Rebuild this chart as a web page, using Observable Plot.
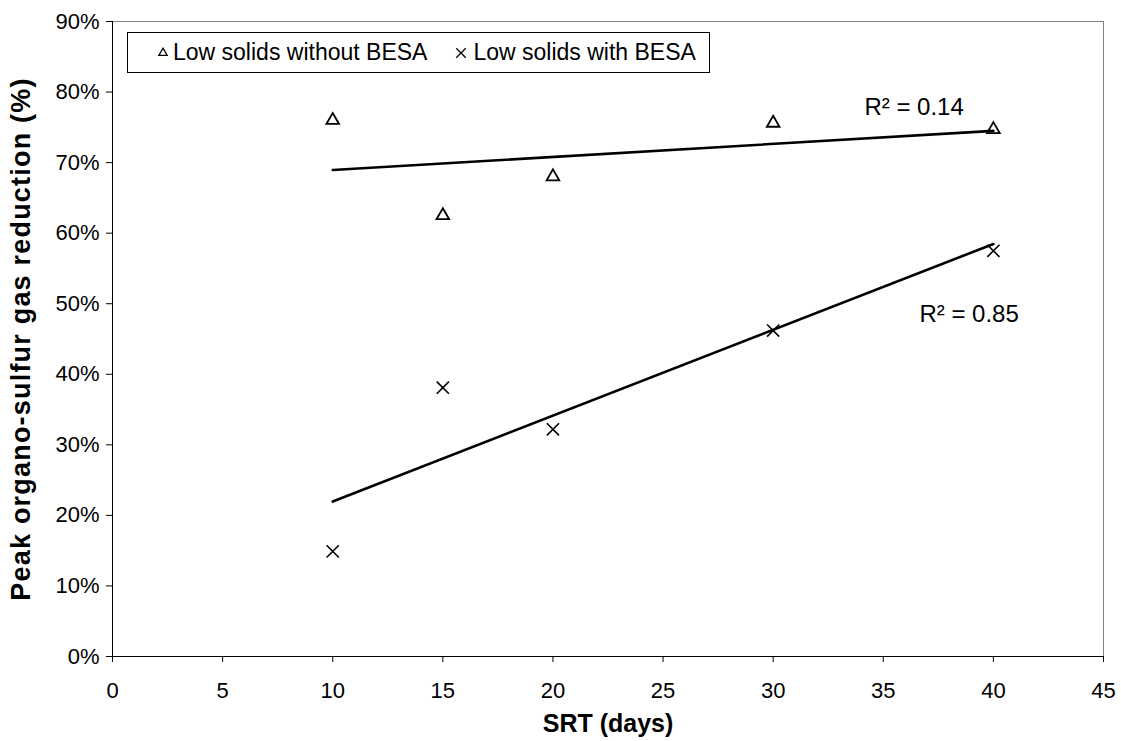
<!DOCTYPE html>
<html>
<head>
<meta charset="utf-8">
<script src="https://cdn.jsdelivr.net/npm/d3@7"></script>
<script src="https://cdn.jsdelivr.net/npm/@observablehq/plot@0.6"></script>
<style>
  html, body { margin: 0; padding: 0; background: #fff; }
  #chart { position: relative; width: 1121px; height: 741px; font-family: "Liberation Sans", Arial, sans-serif; }
  #legend {
    position: absolute; left: 127px; top: 32px; width: 581px; height: 39px;
    border: 1px solid #000; background: #fff;
    display: flex; align-items: center; font-size: 23px; color: #000;
  }
  #legend .item { display: flex; align-items: center; white-space: nowrap; }
  #legend svg { display: block; }
</style>
</head>
<body>
<div id="chart"></div>
<script>
// SRT (days) at which each run was sampled
const srt = [10, 15, 20, 30, 40];
// Peak organo-sulfur gas reduction (%)
const withoutBesa = [76.0, 62.5, 68.0, 75.6, 74.7];
const withBesa = [14.9, 38.1, 32.2, 46.2, 57.5];
const seriesNames = ["Low solids without BESA", "Low solids with BESA"];
const seriesSymbols = ["triangle", "times"];
const xTicks = [0, 5, 10, 15, 20, 25, 30, 35, 40, 45];
const yTicks = [0, 10, 20, 30, 40, 50, 60, 70, 80, 90];
const xTitle = "SRT (days)";
const yTitle = "Peak organo-sulfur gas reduction (%)";

const seriesValues = [withoutBesa, withBesa];
const rows = seriesValues.flatMap((vals, i) =>
  vals.map((v, j) => ({ series: seriesNames[i], srt: srt[j], value: v })));

// Ordinary least-squares fit with coefficient of determination
function fit(xs, ys) {
  const mx = d3.mean(xs), my = d3.mean(ys);
  const sxy = d3.sum(xs, (x, i) => (x - mx) * (ys[i] - my));
  const sxx = d3.sum(xs, x => (x - mx) ** 2);
  const syy = d3.sum(ys, y => (y - my) ** 2);
  const slope = sxy / sxx, intercept = my - slope * mx;
  return { slope, intercept, r2: (sxy * sxy) / (sxx * syy) };
}
const fits = seriesValues.map(vals => fit(srt, vals));
const xEnd = d3.max(srt);
// R² labels anchored at the right end of each trend line
const r2Labels = fits.map((f, i) => ({
  series: seriesNames[i],
  srt: xEnd,
  value: f.intercept + f.slope * xEnd,
  text: `R\u00B2 = ${f.r2.toFixed(2)}`
}));

const font = '"Liberation Sans", Arial, sans-serif';

const plot = Plot.plot({
  width: 1121,
  height: 741,
  marginLeft: 112,
  marginRight: 18,
  marginTop: 21,
  marginBottom: 85,
  style: { fontFamily: font, fontSize: "22px", color: "#000", background: "#fff", overflow: "visible" },
  x: { domain: [0, 45] },
  y: { domain: [0, 90] },
  marks: [
    // plot-area border on the top and right
    Plot.ruleY([90], { stroke: "#808080", strokeWidth: 1 }),
    Plot.ruleX([45], { stroke: "#808080", strokeWidth: 1 }),
    Plot.axisY({ ticks: yTicks, tickSize: 6, tickPadding: 7, tickFormat: d => d + "%", label: null, strokeOpacity: 1 }),
    Plot.axisX({ ticks: xTicks, tickSize: 6, tickPadding: 20, label: null, strokeOpacity: 1 }),
    Plot.ruleX([0], { stroke: "#000", strokeWidth: 1 }),
    Plot.ruleY([0], { stroke: "#000", strokeWidth: 1 }),
    // linear trend lines
    Plot.linearRegressionY(rows, { x: "srt", y: "value", z: "series", ci: 0, stroke: "#000", strokeWidth: 2.6 }),
    // observations
    Plot.dot(rows.filter(d => d.series === seriesNames[0]), {
      x: "srt", y: "value", symbol: seriesSymbols[0], r: 4.7, fill: "none", stroke: "#000", strokeWidth: 1.8
    }),
    Plot.dot(rows.filter(d => d.series === seriesNames[1]), {
      x: "srt", y: "value", symbol: seriesSymbols[1], r: 5.6, fill: "none", stroke: "#000", strokeWidth: 1.6
    }),
    // R² annotations
    Plot.text([r2Labels[0]], { x: "srt", y: "value", text: "text", textAnchor: "start", dx: -129, dy: -24, fontSize: 24, fill: "#000" }),
    Plot.text([r2Labels[1]], { x: "srt", y: "value", text: "text", textAnchor: "start", dx: -74, dy: 70, fontSize: 24, fill: "#000" }),
    // axis titles
    Plot.text([xTitle], { frameAnchor: "bottom", textAnchor: "middle", lineAnchor: "middle", dy: 67, fontSize: 25, fontWeight: "bold", fill: "#000" }),
    Plot.text([yTitle], { frameAnchor: "left", textAnchor: "middle", lineAnchor: "middle", dx: -91, rotate: -90, fontSize: 27, fontWeight: "bold", fill: "#000" })
  ]
});

// slightly open up the vertical axis title
d3.select(plot).selectAll("text")
  .filter(function () { return this.textContent === yTitle; })
  .attr("letter-spacing", "1.2px");

const chart = document.getElementById("chart");
chart.appendChild(plot);

// Legend box drawn inside the plot area
const legend = document.createElement("div");
legend.id = "legend";
const symbolTypes = [d3.symbolTriangle, d3.symbolTimes];
const symbolSizes = [30, 60];
const itemGaps = [28, 27];
seriesNames.forEach((name, i) => {
  const item = document.createElement("div");
  item.className = "item";
  item.style.marginLeft = itemGaps[i] + "px";
  const path = d3.symbol(symbolTypes[i], symbolSizes[i])();
  item.innerHTML =
    `<svg width="14" height="16" viewBox="-7 -8 14 16" style="margin-right:${i === 0 ? 3 : 5}px">` +
    `<path d="${path}" fill="none" stroke="#000" stroke-width="1.3"></path></svg>` +
    `<span>${name}</span>`;
  legend.appendChild(item);
});
chart.appendChild(legend);
</script>
</body>
</html>
